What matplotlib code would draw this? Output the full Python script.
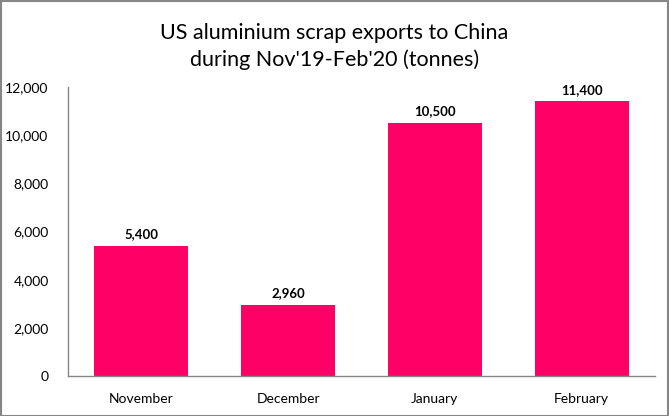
import matplotlib
matplotlib.use("Agg")
import matplotlib.pyplot as plt
from matplotlib.patches import Rectangle
from matplotlib.ticker import FuncFormatter

months = ["November", "December", "January", "February"]
values = [5400, 2960, 10500, 11400]
yticks = [0, 2000, 4000, 6000, 8000, 10000, 12000]

plt.rcParams['font.family'] = ['Lato', 'DejaVu Sans']

fig = plt.figure(figsize=(6.69, 4.16), dpi=100)
ax = fig.add_axes([68/669, 40/416, (655-68)/669, (376-87)/416])

x = range(len(months))
ax.bar(x, values, width=0.64, color="#FF0066")
ax.set_xlim(-0.5, len(months) - 0.5)
ax.set_ylim(0, 12000)
ax.set_yticks(yticks)
ax.yaxis.set_major_formatter(FuncFormatter(lambda v, p: f"{int(v):,}"))
ax.set_xticks(list(x))
ax.set_xticklabels(months)
ax.tick_params(axis='both', length=0, labelsize=10, colors="#000000")
ax.tick_params(axis='y', pad=14)
ax.tick_params(axis='x', pad=12)
for s in ["top", "right"]:
    ax.spines[s].set_visible(False)
for s in ["left", "bottom"]:
    ax.spines[s].set_color("#868686")
    ax.spines[s].set_linewidth(1.0)

for i, v in zip(x, values):
    ax.annotate(f"{v:,}", (i, v), xytext=(0, 4), textcoords="offset points",
                ha="center", va="bottom", fontsize=9.5, fontweight="bold")

fig.text(0.5, 1 - 33/416, "US aluminium scrap exports to China", ha="center", va="center", fontsize=15.5)
fig.text(0.5, 1 - 60/416, "during Nov'19-Feb'20 (tonnes)", ha="center", va="center", fontsize=15.5)

fig.patches.append(Rectangle((0.5/669, 0.5/416), 1 - 1.5/669, 1 - 1.5/416, transform=fig.transFigure,
                             fill=False, edgecolor="#868686", linewidth=1.5))

fig.savefig("out.png", dpi=100)
